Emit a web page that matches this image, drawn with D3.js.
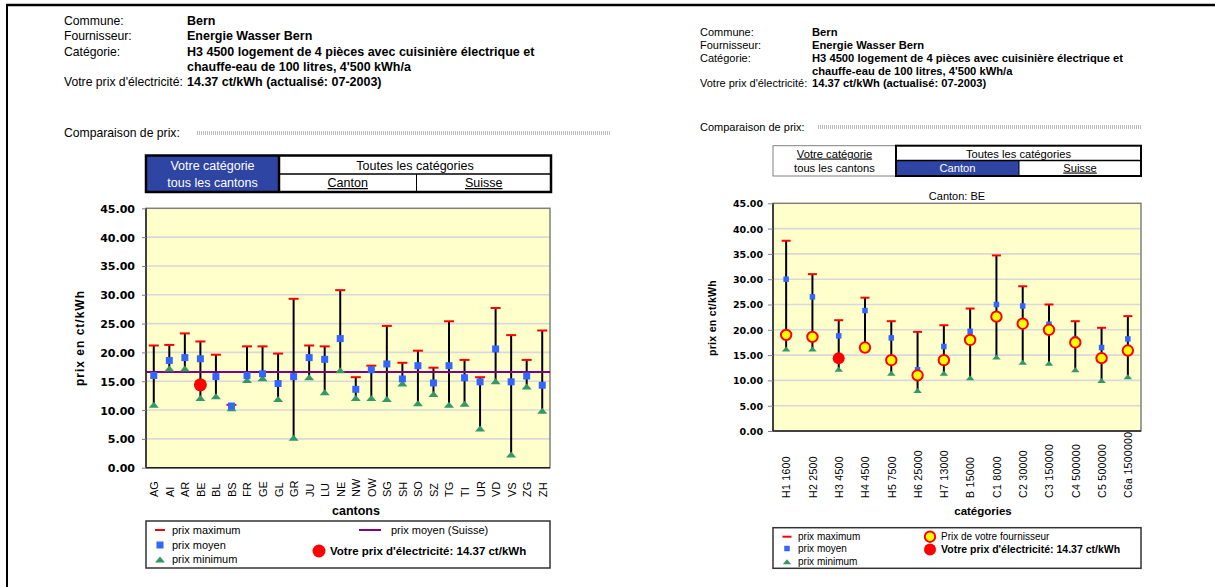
<!DOCTYPE html>
<html>
<head>
<meta charset="utf-8">
<script src="https://cdn.jsdelivr.net/npm/d3@7"></script>
<style>
  body { margin: 0; background: #fff; }
  text { font-family: "Liberation Sans", Arial, sans-serif; fill: #000; }
</style>
</head>
<body>
<svg id="chart" width="1215" height="587"></svg>
<script>
// header texts
const headerLabels = ["Commune:", "Fournisseur:", "Catégorie:", "", "Votre prix d'électricité:"];
const headerValues = ["Bern", "Energie Wasser Bern",
  "H3 4500 logement de 4 pièces avec cuisinière électrique et",
  "chauffe-eau de 100 litres, 4'500 kWh/a",
  "14.37 ct/kWh (actualisé: 07-2003)"];

const yTicks = [0, 5, 10, 15, 20, 25, 30, 35, 40, 45];
const yourPrice = 14.37;

// left chart: your category, all cantons
const cantons = ["AG", "AI", "AR", "BE", "BL", "BS", "FR", "GE", "GL", "GR", "JU", "LU", "NE",
  "NW", "OW", "SG", "SH", "SO", "SZ", "TG", "TI", "UR", "VD", "VS", "ZG", "ZH"];
const cantonMax = [21.2, 21.3, 23.3, 21.9, 19.6, 10.9, 21.05, 21.05, 19.8, 29.3, 21.2, 21.05, 30.8,
  15.7, 17.7, 24.6, 18.2, 20.3, 17.35, 25.4, 18.7, 15.7, 27.7, 23.0, 18.7, 23.8];
const cantonMean = [16.0, 18.6, 19.1, 18.9, 15.8, 10.7, 16.0, 16.3, 14.6, 15.8, 19.1, 18.8, 22.4,
  13.6, 17.0, 18.0, 15.4, 17.7, 14.7, 17.7, 15.6, 14.9, 20.6, 14.9, 15.9, 14.3];
const cantonMin = [10.9, 17.2, 17.2, 12.1, 12.4, 10.3, 15.2, 15.5, 11.9, 5.2, 15.7, 13.1, 16.9,
  12.1, 12.1, 11.9, 14.6, 11.2, 12.8, 10.9, 11.1, 6.8, 15.0, 2.3, 14.1, 9.9];
const swissMean = 16.6;
const yourCanton = "BE";

// right chart: all categories, canton BE
const categories = ["H1 1600", "H2 2500", "H3 4500", "H4 4500", "H5 7500", "H6 25000", "H7 13000",
  "B 15000", "C1 8000", "C2 30000", "C3 150000", "C4 500000", "C5 500000", "C6a 1500000"];
const catMax = [37.6, 31.0, 21.9, 26.35, 21.7, 19.6, 20.9, 24.2, 34.7, 28.6, 25.0, 21.7, 20.4, 22.7];
const catMean = [30.0, 26.5, 18.8, 23.8, 18.4, 12.1, 16.7, 19.7, 25.0, 24.7, 21.1, 18.2, 16.5, 18.2];
const catMin = [16.2, 16.2, 12.2, 16.3, 11.4, 8.0, 11.4, 10.5, 14.6, 13.6, 13.4, 12.1, 10.0, 10.7];
const catSupplier = [19.0, 18.6, 14.37, 16.5, 14.0, 11.0, 14.0, 18.0, 22.6, 21.2, 20.0, 17.5, 14.4, 15.9];
const yourCategory = "H3 4500";

const BLUE = "#3366ff", GREEN = "#339966", RED = "#ff0000", PURPLE = "#800080";
const NAVY = "#2f45a3";

const svg = d3.select("#chart");
svg.append("rect").attr("width", 1215).attr("height", 587).attr("fill", "#fff");

// outer frame
svg.append("line").attr("x1", 6).attr("x2", 1215).attr("y1", 5).attr("y2", 5)
  .attr("stroke", "#000").attr("stroke-width", 2.5);
svg.append("line").attr("x1", 7).attr("x2", 7).attr("y1", 4).attr("y2", 587)
  .attr("stroke", "#000").attr("stroke-width", 2);

function header(o) {
  const g = svg.append("g");
  g.selectAll(".lab").data(headerLabels).join("text")
    .attr("x", o.x0).attr("y", (d, i) => o.lines[i])
    .style("font-size", o.lfs + "px").text(d => d);
  g.selectAll(".val").data(headerValues).join("text")
    .attr("x", o.x1).attr("y", (d, i) => o.lines[i])
    .style("font-size", o.fs + "px").style("font-weight", "bold").text(d => d);
  g.append("text").attr("x", o.x0).attr("y", o.cmpY)
    .style("font-size", o.lfs + "px").text("Comparaison de prix:");
  [-1, 1].forEach(k => {
    g.append("line").attr("x1", o.dotX0).attr("x2", o.dotX1)
      .attr("y1", o.cmpY - 4 + k).attr("y2", o.cmpY - 4 + k)
      .attr("stroke", "#777").attr("stroke-width", 1).attr("stroke-dasharray", "1,1");
  });
}

header({ x0: 64, x1: 187, fs: 12.5, lfs: 12.2, lines: [25, 40, 55.5, 71, 86], cmpY: 137, dotX0: 197, dotX1: 610 });
header({ x0: 700, x1: 812, fs: 11.2, lfs: 11, lines: [35.7, 49, 61.7, 74.7, 87.3], cmpY: 131, dotX0: 818, dotX1: 1141 });

function label(g, x, y, t, fs, opts = {}) {
  const el = g.append("text").attr("x", x).attr("y", y).attr("text-anchor", "middle")
    .style("font-size", fs + "px").text(t);
  if (opts.color) el.style("fill", opts.color);
  if (opts.underline) el.style("text-decoration", "underline");
  return el;
}

// left toggle: "Votre catégorie" selected
(function () {
  const g = svg.append("g");
  const x0 = 146, xs = 279, xc = 416.5, x1 = 551, y0 = 155.5, ym = 174, y1 = 192;
  g.append("rect").attr("x", x0).attr("y", y0).attr("width", xs - x0).attr("height", y1 - y0).attr("fill", NAVY);
  g.append("line").attr("x1", xs).attr("x2", x1).attr("y1", ym).attr("y2", ym).attr("stroke", "#000").attr("stroke-width", 1.5);
  g.append("line").attr("x1", xc).attr("x2", xc).attr("y1", ym).attr("y2", y1).attr("stroke", "#000").attr("stroke-width", 1);
  g.append("line").attr("x1", xs).attr("x2", xs).attr("y1", y0).attr("y2", y1).attr("stroke", "#000").attr("stroke-width", 2.5);
  g.append("rect").attr("x", x0).attr("y", y0).attr("width", x1 - x0).attr("height", y1 - y0)
    .attr("fill", "none").attr("stroke", "#000").attr("stroke-width", 2.5);
  label(g, (x0 + xs) / 2, 169.5, "Votre catégorie", 12.5, { color: "#fff" });
  label(g, (x0 + xs) / 2, 187, "tous les cantons", 12.5, { color: "#fff" });
  label(g, (xs + x1) / 2, 169.5, "Toutes les catégories", 12.5);
  label(g, (xs + xc) / 2, 187, "Canton", 12.5, { underline: true });
  label(g, (xc + x1) / 2, 187, "Suisse", 12.5, { underline: true });
})();

// right toggle: "Canton" selected
(function () {
  const g = svg.append("g");
  const x0 = 773, xs = 896, xc = 1019, x1 = 1141, y0 = 145.7, ym = 160.5, y1 = 176;
  g.append("rect").attr("x", x0).attr("y", y0).attr("width", xs - x0).attr("height", y1 - y0)
    .attr("fill", "#fff").attr("stroke", "#808080").attr("stroke-width", 1);
  g.append("rect").attr("x", xs).attr("y", ym).attr("width", xc - xs).attr("height", y1 - ym).attr("fill", NAVY);
  g.append("line").attr("x1", xs).attr("x2", x1).attr("y1", ym).attr("y2", ym).attr("stroke", "#000").attr("stroke-width", 1.5);
  g.append("line").attr("x1", xc).attr("x2", xc).attr("y1", ym).attr("y2", y1).attr("stroke", "#000").attr("stroke-width", 1);
  g.append("rect").attr("x", xs).attr("y", y0).attr("width", x1 - xs).attr("height", y1 - y0)
    .attr("fill", "none").attr("stroke", "#000").attr("stroke-width", 2);
  label(g, (x0 + xs) / 2, 157.5, "Votre catégorie", 11.2, { underline: true });
  label(g, (x0 + xs) / 2, 171.5, "tous les cantons", 11.2);
  label(g, (xs + x1) / 2, 157.5, "Toutes les catégories", 11.2);
  label(g, (xs + xc) / 2, 171.5, "Canton", 11.2, { color: "#fff" });
  label(g, (xc + x1) / 2, 171.5, "Suisse", 11.2, { underline: true });
})();

function triPath(w, h) {
  return `M${-w / 2},${h / 2}L${w / 2},${h / 2}L0,${-h / 2}Z`;
}

function drawPlot(o) {
  const g = svg.append("g");
  const y = d3.scaleLinear().domain([0, 45]).range([o.bottom, o.top]);
  const x = d3.scalePoint().domain(o.cats).range([o.left, o.right]).padding(0.5);
  const rows = o.cats.map((c, i) => ({ c, max: o.max[i], mean: o.mean[i], min: o.min[i], sup: o.sup ? o.sup[i] : null }));

  g.append("rect").attr("x", o.left).attr("y", o.top).attr("width", o.right - o.left)
    .attr("height", o.bottom - o.top).attr("fill", "#ffffcc");
  g.selectAll(".grid").data(yTicks.filter(v => v > 0 && v < 45)).join("line")
    .attr("x1", o.left).attr("x2", o.right).attr("y1", d => y(d)).attr("y2", d => y(d))
    .attr("stroke", "#d9d9d9").attr("stroke-width", 1.6);
  g.append("rect").attr("x", o.left).attr("y", o.top).attr("width", o.right - o.left)
    .attr("height", o.bottom - o.top).attr("fill", "none").attr("stroke", "#808080").attr("stroke-width", 1.5);
  g.append("line").attr("x1", o.left).attr("x2", o.left).attr("y1", o.top).attr("y2", o.bottom)
    .attr("stroke", "#222").attr("stroke-width", 1.5);
  g.append("line").attr("x1", o.left).attr("x2", o.right).attr("y1", o.bottom).attr("y2", o.bottom)
    .attr("stroke", "#222").attr("stroke-width", 1.5);

  const ya = g.append("g").attr("transform", `translate(${o.left},0)`)
    .call(d3.axisLeft(y).tickValues(yTicks).tickFormat(d3.format(".2f")).tickSize(o.tickSize).tickPadding(o.tickPad));
  ya.select(".domain").remove();
  ya.selectAll("line").attr("stroke", "#808080");
  ya.selectAll("text").style("font-family", "'DejaVu Sans', Verdana, sans-serif")
    .style("font-weight", "bold").style("font-size", o.tickFs + "px").attr("dy", "0.36em");

  const xa = g.append("g").attr("transform", `translate(0,${o.bottom})`)
    .call(d3.axisBottom(x).tickSize(0));
  xa.select(".domain").remove();
  xa.selectAll("text").attr("x", 0).attr("y", 0).attr("dy", "0.36em")
    .attr("text-anchor", "start")
    .attr("transform", `translate(0,${o.labelBase - o.bottom}) rotate(-90)`)
    .style("font-size", o.catFs + "px").style("letter-spacing", o.catLs + "px");

  g.append("text").attr("transform", `translate(${o.yTitleX},${o.yTitleY}) rotate(-90)`)
    .attr("text-anchor", "middle").style("font-weight", "bold").style("font-size", o.yTitleFs + "px")
    .style("letter-spacing", o.yTitleLs + "px").text("prix en ct/kWh");
  g.append("text").attr("x", o.xTitleX).attr("y", o.xTitleY).attr("text-anchor", "middle")
    .style("font-weight", "bold").style("font-size", o.xTitleFs + "px").text(o.xTitle);

  g.selectAll(".whisker").data(rows).join("line")
    .attr("x1", d => x(d.c)).attr("x2", d => x(d.c))
    .attr("y1", d => y(d.min)).attr("y2", d => y(d.max))
    .attr("stroke", "#000").attr("stroke-width", 2);

  if (o.refLine != null) {
    g.append("line").attr("x1", o.left).attr("x2", o.right)
      .attr("y1", y(o.refLine)).attr("y2", y(o.refLine))
      .attr("stroke", PURPLE).attr("stroke-width", 2);
  }

  g.selectAll(".maxm").data(rows).join("line")
    .attr("x1", d => x(d.c) - o.dash / 2).attr("x2", d => x(d.c) + o.dash / 2)
    .attr("y1", d => y(d.max)).attr("y2", d => y(d.max))
    .attr("stroke", RED).attr("stroke-width", 2);
  g.selectAll(".minm").data(rows).join("path")
    .attr("transform", d => `translate(${x(d.c)},${y(d.min)})`)
    .attr("d", triPath(o.triW, o.triH)).attr("fill", GREEN);
  g.selectAll(".meanm").data(rows).join("rect")
    .attr("x", d => x(d.c) - o.sq / 2).attr("y", d => y(d.mean) - o.sq / 2)
    .attr("width", o.sq).attr("height", o.sq).attr("fill", BLUE);

  if (o.sup) {
    g.selectAll(".supm").data(rows.filter(d => d.c !== o.yourCat)).join("circle")
      .attr("cx", d => x(d.c)).attr("cy", d => y(d.sup)).attr("r", o.supR)
      .attr("fill", "#ffff00").attr("stroke", RED).attr("stroke-width", 2);
  }
  g.append("circle").attr("cx", x(o.yourCat)).attr("cy", y(yourPrice)).attr("r", o.yourR).attr("fill", RED);

  // legend
  const L = o.legend;
  const lg = svg.append("g");
  lg.append("rect").attr("x", o.left).attr("y", L.top).attr("width", o.right - o.left)
    .attr("height", L.bottom - L.top).attr("fill", "#fff").attr("stroke", "#333").attr("stroke-width", 1.5);
  const entry = (yy, t, bold, tx) => lg.append("text").attr("x", tx).attr("y", yy + L.fs * 0.36)
    .style("font-size", (bold ? L.bfs : L.fs) + "px").style("font-weight", bold ? "bold" : "normal").text(t);
  lg.append("line").attr("x1", L.mx - o.dash / 2).attr("x2", L.mx + o.dash / 2)
    .attr("y1", L.rows[0]).attr("y2", L.rows[0]).attr("stroke", RED).attr("stroke-width", 2);
  entry(L.rows[0], "prix maximum", false, L.tx);
  lg.append("rect").attr("x", L.mx - o.sq / 2).attr("y", L.rows[1] - o.sq / 2)
    .attr("width", o.sq).attr("height", o.sq).attr("fill", BLUE);
  entry(L.rows[1], "prix moyen", false, L.tx);
  lg.append("path").attr("transform", `translate(${L.mx},${L.rows[2]})`)
    .attr("d", triPath(o.triW, o.triH)).attr("fill", GREEN);
  entry(L.rows[2], "prix minimum", false, L.tx);
  if (o.refLine != null) {
    lg.append("line").attr("x1", L.lineX0).attr("x2", L.lineX1).attr("y1", L.rows2[0]).attr("y2", L.rows2[0])
      .attr("stroke", PURPLE).attr("stroke-width", 2);
    entry(L.rows2[0], "prix moyen (Suisse)", false, L.lineTx);
  } else {
    lg.append("circle").attr("cx", L.m2x).attr("cy", L.rows2[0]).attr("r", o.supR)
      .attr("fill", "#ffff00").attr("stroke", RED).attr("stroke-width", 2);
    entry(L.rows2[0], "Prix de votre fournisseur", false, L.t2x);
  }
  lg.append("circle").attr("cx", L.m2x).attr("cy", L.rows2[1]).attr("r", o.yourR).attr("fill", RED);
  entry(L.rows2[1], "Votre prix d'électricité: 14.37 ct/kWh", true, L.t2x);
}

drawPlot({
  cats: cantons, max: cantonMax, mean: cantonMean, min: cantonMin, refLine: swissMean, yourCat: yourCanton,
  left: 146, right: 550, top: 208.3, bottom: 467.7,
  tickSize: 4, tickPad: 7, tickFs: 11, labelBase: 497, catFs: 11, catLs: 0,
  yTitleX: 84, yTitleY: 338, yTitleFs: 12, yTitleLs: 1,
  xTitle: "cantons", xTitleX: 356, xTitleY: 515, xTitleFs: 12.5,
  dash: 10, triW: 10, triH: 6, sq: 7, yourR: 6.5, supR: 5.5,
  legend: { top: 521, bottom: 568, mx: 160, tx: 172, rows: [530, 545, 559.5], fs: 11, bfs: 11.5,
    lineX0: 359, lineX1: 381, lineTx: 391, m2x: 319, t2x: 330, rows2: [530, 551] }
});

drawPlot({
  cats: categories, max: catMax, mean: catMean, min: catMin, sup: catSupplier, refLine: null, yourCat: yourCategory,
  left: 773, right: 1141, top: 203.3, bottom: 431,
  tickSize: 5, tickPad: 5, tickFs: 9.5, labelBase: 498, catFs: 10.5, catLs: 0.3,
  yTitleX: 716, yTitleY: 318, yTitleFs: 10.5, yTitleLs: 0.3,
  xTitle: "catégories", xTitleX: 983, xTitleY: 515, xTitleFs: 11.5,
  dash: 9, triW: 8.5, triH: 5, sq: 5.5, yourR: 6, supR: 5.2,
  legend: { top: 527.7, bottom: 568.3, mx: 787, tx: 798, rows: [536.7, 548.5, 561.7], fs: 10, bfs: 10.5,
    m2x: 930, t2x: 941, rows2: [536.7, 549.5] }
});

svg.append("text").attr("x", 957).attr("y", 199.5).attr("text-anchor", "middle")
  .style("font-size", "11px").text("Canton: BE");
</script>
</body>
</html>
